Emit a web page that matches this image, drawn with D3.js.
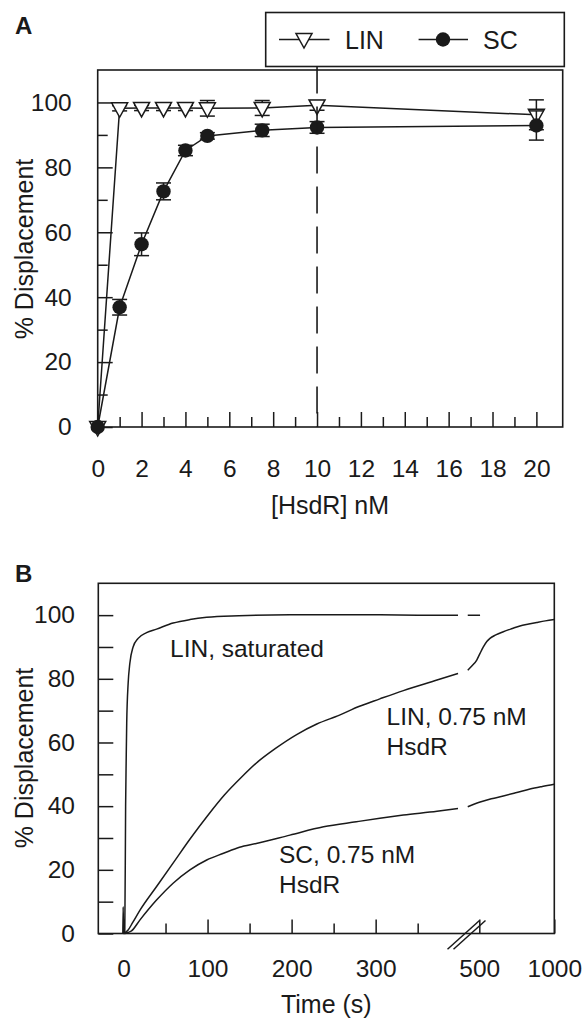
<!DOCTYPE html>
<html>
<head>
<meta charset="utf-8">
<script src="https://cdn.jsdelivr.net/npm/d3@7"></script>
<style>
  body { margin: 0; background: #fff; }
  svg { display: block; }
  text { font-family: "Liberation Sans", Arial, sans-serif; fill: #1a1a1a; }
</style>
</head>
<body>
<svg id="chart" width="587" height="1019"></svg>
<script>
// ---- Panel A: displacement vs [HsdR] ----
const hsdr = [0, 1, 2, 3, 4, 5, 7.5, 10, 20];
const linDisp = [0, 98.2, 98.3, 98.3, 98.3, 98.2, 98.3, 99.1, 96.2];
const linErr = [0, 0.8, 0.8, 0.8, 0.8, 2.4, 2.3, 1.5, 4.6];
const scDisp = [0, 36.9, 56.3, 72.6, 85.2, 89.7, 91.4, 92.3, 92.9];
const scErr = [0, 2.4, 3.5, 2.6, 1.6, 1.0, 1.9, 1.8, 4.5];
const hsdrTicks = [0, 2, 4, 6, 8, 10, 12, 14, 16, 18, 20];
const pctTicks = [0, 20, 40, 60, 80, 100];

// ---- Panel B: time courses (null = axis break) ----
const satTime = [-0.8, -0.4, 0, 1.5, 2.5, 3.2, 3.8, 5.5, 7.5, 11.4, 17.4, 27.4, 39.3, 59, 79, 99, 137, 198, 250, 305, 350, 398, null, 423, 505];
const satDisp = [0, 8.4, 0.5, 0, 40, 55, 66, 78.5, 84.8, 90, 92.7, 94.5, 95.6, 97.5, 98.6, 99.3, 99.8, 100.1, 100.1, 100.1, 100, 100, null, 100, 100];
const lin75Time = [0, 5.5, 11, 20, 40, 60, 80, 100, 120, 140, 160, 180, 206, 230, 257, 280, 305, 333, 373, 398, null, 423, 450, 483, 505, 527, 550, 571, 610, 660, 720, 771, 830, 883, 940, 1000];
const lin75Disp = [0, 1.1, 3.5, 7.5, 15, 22.5, 30, 37, 43.5, 49, 54, 58, 62.5, 65.8, 68.6, 71.3, 73.7, 76.3, 79.6, 81.7, null, 82.7, 84, 85.9, 88, 90, 91.7, 92.7, 93.8, 94.8, 95.8, 96.6, 97.2, 97.7, 98.2, 98.6];
const sc75Time = [0, 5, 9.5, 19.4, 39.3, 59, 79, 99, 119, 138, 158, 198, 238, 277, 305, 333, 373, 398, null, 423, 500, 580, 660, 750, 838, 920, 1000];
const sc75Disp = [0, 0.3, 0.8, 4.2, 10.5, 15.8, 20, 23.1, 25.2, 27.1, 28.3, 30.9, 33.5, 35.1, 36.2, 37.2, 38.4, 39.3, null, 39.8, 41.2, 42.3, 43.2, 44.3, 45.4, 46.2, 46.9];
const timeTicks = [0, 100, 200, 300, 500, 1000];
const timeMinor = [50, 150, 250, 350];

const svg = d3.select("#chart");
const ink = "#1a1a1a";
const lw = 1.5;

// scales
const xA = d3.scaleLinear().domain([0, 21.2]).range([97.7, 562.7]);
const yA = d3.scaleLinear().domain([0, 110]).range([427, 70]);
const xB = d3.scaleLinear().domain([-30, 400, 420, 1000]).range([98.3, 459.7, 467.3, 554.3]);
const yB = d3.scaleLinear().domain([0, 110]).range([933.5, 583.3]);

function frame(x, y) {
  svg.append("rect")
    .attr("x", x.range()[0]).attr("y", y.range()[1])
    .attr("width", x.range()[x.range().length - 1] - x.range()[0])
    .attr("height", y.range()[0] - y.range()[1])
    .attr("fill", "none").attr("stroke", ink).attr("stroke-width", 1.6);
}

function styleAxis(g) {
  g.select(".domain").remove();
  g.selectAll("line").attr("stroke", ink).attr("stroke-width", lw);
  g.selectAll("text").attr("font-size", 24.5).attr("fill", ink)
    .attr("font-family", "Liberation Sans, Arial, sans-serif");
}

// ================= Panel A =================
// minor ticks
svg.append("g").attr("transform", `translate(${xA.range()[0]},0)`)
  .call(d3.axisLeft(yA).tickValues(d3.range(10, 110, 20)).tickSizeInner(-10).tickSizeOuter(0).tickFormat(""))
  .call(styleAxis);
svg.append("g").attr("transform", `translate(0,${yA.range()[0]})`)
  .call(d3.axisBottom(xA).tickValues(d3.range(1, 21, 2)).tickSizeInner(-10).tickSizeOuter(0).tickFormat(""))
  .call(styleAxis);
// major ticks + labels
svg.append("g").attr("transform", `translate(${xA.range()[0]},0)`)
  .call(d3.axisLeft(yA).tickValues(pctTicks).tickSizeInner(-15).tickSizeOuter(0).tickPadding(26))
  .call(styleAxis);
svg.append("g").attr("transform", `translate(0,${yA.range()[0]})`)
  .call(d3.axisBottom(xA).tickValues(hsdrTicks).tickSizeInner(-15).tickSizeOuter(0).tickPadding(33))
  .call(styleAxis);
frame(xA, yA);

// error bars
function errorBars(xs, ys, es, x, y) {
  const g = svg.append("g").attr("stroke", ink).attr("stroke-width", lw);
  xs.forEach((v, i) => {
    if (!es[i]) return;
    const cx = x(v), top = y(ys[i] + es[i]), bot = y(ys[i] - es[i]);
    g.append("line").attr("x1", cx).attr("x2", cx).attr("y1", top).attr("y2", bot);
    g.append("line").attr("x1", cx - 7.5).attr("x2", cx + 7.5).attr("y1", top).attr("y2", top);
    g.append("line").attr("x1", cx - 7.5).attr("x2", cx + 7.5).attr("y1", bot).attr("y2", bot);
  });
}

const triPath = "M-8,-5.5L8,-5.5L0,9Z";
const lineA = d3.line().x(d => xA(d[0])).y(d => yA(d[1]));

// LIN series
errorBars(hsdr, linDisp, linErr, xA, yA);
svg.append("path").datum(hsdr.map((h, i) => [h, linDisp[i]]))
  .attr("d", lineA).attr("fill", "none").attr("stroke", ink).attr("stroke-width", lw);
svg.append("g").selectAll("path").data(hsdr).join("path")
  .attr("transform", (h, i) => `translate(${xA(h)},${yA(linDisp[i])})`)
  .attr("d", triPath).attr("fill", "#fff").attr("stroke", ink).attr("stroke-width", lw);

// SC series
errorBars(hsdr, scDisp, scErr, xA, yA);
svg.append("path").datum(hsdr.map((h, i) => [h, scDisp[i]]))
  .attr("d", lineA).attr("fill", "none").attr("stroke", ink).attr("stroke-width", lw);
svg.append("g").selectAll("circle").data(hsdr).join("circle")
  .attr("cx", h => xA(h)).attr("cy", (h, i) => yA(scDisp[i])).attr("r", 7.2)
  .attr("fill", ink);

// legend
const leg = svg.append("g");
leg.append("rect").attr("x", 265.7).attr("y", 12.5).attr("width", 298.6).attr("height", 54)
  .attr("fill", "#fff").attr("stroke", ink).attr("stroke-width", 1.6);
leg.append("line").attr("x1", 279).attr("x2", 329.5).attr("y1", 39.5).attr("y2", 39.5)
  .attr("stroke", ink).attr("stroke-width", lw);
leg.append("path").attr("transform", "translate(304,39)").attr("d", triPath)
  .attr("fill", "#fff").attr("stroke", ink).attr("stroke-width", lw);
leg.append("text").attr("x", 345).attr("y", 48.5).attr("font-size", 25).text("LIN");
leg.append("line").attr("x1", 418.6).attr("x2", 468).attr("y1", 39.5).attr("y2", 39.5)
  .attr("stroke", ink).attr("stroke-width", lw);
leg.append("circle").attr("cx", 443).attr("cy", 39.5).attr("r", 7.2).attr("fill", ink);
leg.append("text").attr("x", 483).attr("y", 48.5).attr("font-size", 25).text("SC");

// dashed reference at 10 nM
svg.append("line").attr("x1", xA(10)).attr("x2", xA(10)).attr("y1", 66.5).attr("y2", yA(0))
  .attr("stroke", ink).attr("stroke-width", 1.6).attr("stroke-dasharray", "27,13");

// labels
svg.append("text").attr("x", 15).attr("y", 34).attr("font-size", 24).attr("font-weight", "bold").text("A");
svg.append("text").attr("x", 330).attr("y", 514).attr("text-anchor", "middle").attr("font-size", 25).text("[HsdR] nM");
svg.append("text").attr("transform", "translate(33,249) rotate(-90)").attr("text-anchor", "middle")
  .attr("font-size", 25).text("% Displacement");

// ================= Panel B =================
svg.append("g").attr("transform", `translate(${xB(-30)},0)`)
  .call(d3.axisLeft(yB).tickValues(d3.range(10, 110, 20)).tickSizeInner(-15).tickSizeOuter(0).tickFormat(""))
  .call(styleAxis);
svg.append("g").attr("transform", `translate(${xB(-30)},0)`)
  .call(d3.axisLeft(yB).tickValues(pctTicks).tickSizeInner(-15).tickSizeOuter(0).tickPadding(23.3))
  .call(styleAxis);
svg.append("g").attr("transform", `translate(0,${yB(0)})`)
  .call(d3.axisBottom(xB).tickValues(timeMinor).tickSizeInner(-10).tickSizeOuter(0).tickFormat(""))
  .call(styleAxis);
svg.append("g").attr("transform", `translate(0,${yB(0)})`)
  .call(d3.axisBottom(xB).tickValues(timeTicks).tickFormat(d3.format("d"))
    .tickSizeInner(-14).tickSizeOuter(0).tickPadding(26.5))
  .call(styleAxis);
frame(xB, yB);

const lineB = d3.line().defined(d => d[1] != null)
  .x(d => xB(d[0])).y(d => yB(d[1])).curve(d3.curveMonotoneX);
[[satTime, satDisp], [lin75Time, lin75Disp], [sc75Time, sc75Disp]].forEach(([t, v]) => {
  svg.append("path").datum(t.map((tt, i) => [tt, v[i]]))
    .attr("d", lineB).attr("fill", "none").attr("stroke", ink).attr("stroke-width", lw);
});

// axis break marks
const bx = xB(410), by = yB(0);
[-16, -10].forEach(off => {
  svg.append("line")
    .attr("x1", bx + off).attr("y1", by + 15.8)
    .attr("x2", bx + off + 32).attr("y2", by - 13)
    .attr("stroke", ink).attr("stroke-width", lw);
});

// annotations
const note = [["LIN, saturated", 170, 656.7], ["LIN, 0.75 nM", 386.5, 724.5], ["HsdR", 386.5, 754.5],
              ["SC, 0.75 nM", 279, 862.7], ["HsdR", 279, 893]];
note.forEach(([s, x, y]) => svg.append("text").attr("x", x).attr("y", y).attr("font-size", 24.5).text(s));

svg.append("text").attr("x", 15).attr("y", 582).attr("font-size", 24).attr("font-weight", "bold").text("B");
svg.append("text").attr("x", 326.3).attr("y", 1013).attr("text-anchor", "middle").attr("font-size", 25).text("Time (s)");
svg.append("text").attr("transform", "translate(33,758) rotate(-90)").attr("text-anchor", "middle")
  .attr("font-size", 25).text("% Displacement");
</script>
</body>
</html>
